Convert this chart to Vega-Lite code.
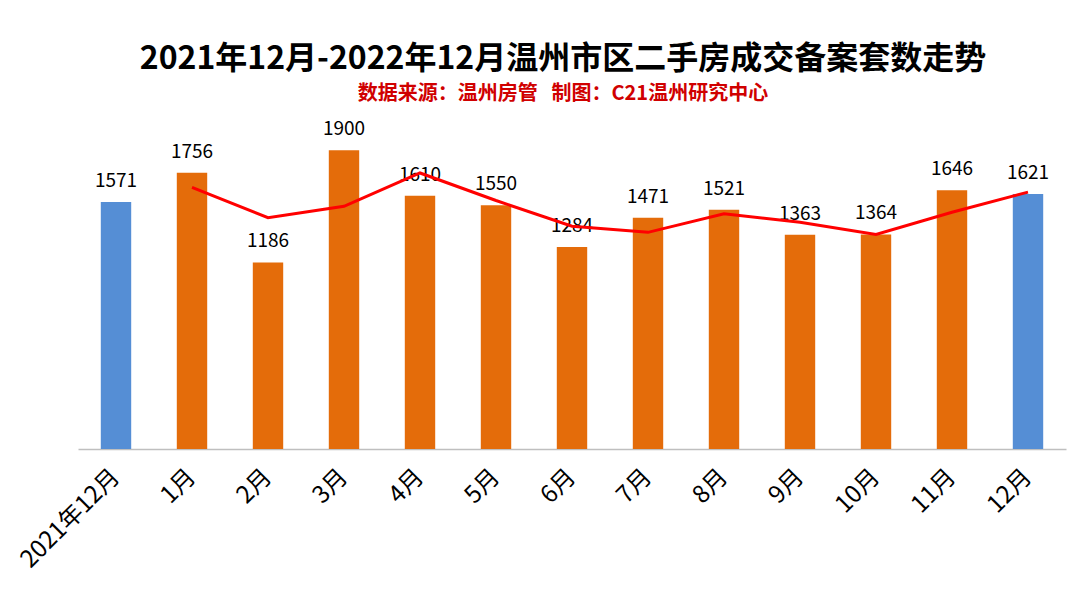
{
  "$schema": "https://vega.github.io/schema/vega-lite/v6.json",
  "autosize": {"type": "none"},
  "width": 988,
  "height": 346,
  "padding": {"left": 78, "top": 103, "right": 14, "bottom": 140},
  "background": "white",
  "title": {
    "text": "2021年12月-2022年12月温州市区二手房成交备案套数走势",
    "subtitle": "数据来源：温州房管\u00a0\u00a0\u00a0制图：C21温州研究中心",
    "font": "Noto Sans CJK SC",
    "fontSize": 32,
    "fontWeight": "bold",
    "color": "#000000",
    "subtitleFont": "Noto Sans CJK SC",
    "subtitleFontSize": 20,
    "subtitleFontWeight": "bold",
    "subtitleColor": "#D00000",
    "subtitlePadding": 8,
    "anchor": "middle",
    "offset": -2,
    "dx": -9
  },
  "data": {
    "values": [
      {"month": "2021年12月", "count": 1571, "type": "base", "avg": null},
      {"month": "1月", "count": 1756, "type": "month", "avg": 1663.5},
      {"month": "2月", "count": 1186, "type": "month", "avg": 1471},
      {"month": "3月", "count": 1900, "type": "month", "avg": 1543},
      {"month": "4月", "count": 1610, "type": "month", "avg": 1755},
      {"month": "5月", "count": 1550, "type": "month", "avg": 1580},
      {"month": "6月", "count": 1284, "type": "month", "avg": 1417},
      {"month": "7月", "count": 1471, "type": "month", "avg": 1377.5},
      {"month": "8月", "count": 1521, "type": "month", "avg": 1496},
      {"month": "9月", "count": 1363, "type": "month", "avg": 1442},
      {"month": "10月", "count": 1364, "type": "month", "avg": 1363.5},
      {"month": "11月", "count": 1646, "type": "month", "avg": 1505},
      {"month": "12月", "count": 1621, "type": "base", "avg": 1633.5}
    ]
  },
  "encoding": {
    "x": {
      "field": "month",
      "type": "nominal",
      "sort": null,
      "scale": {"paddingInner": 0.6, "paddingOuter": 0.3},
      "axis": {
        "title": null,
        "labelAngle": -45,
        "labelAlign": "right",
        "labelBaseline": "middle",
        "labelFont": "Noto Sans CJK SC",
        "labelFontSize": 24,
        "labelColor": "#000000",
        "labelPadding": 24,
        "ticks": false,
        "domainColor": "#BFBFBF",
        "domainWidth": 1.5,
        "grid": false
      }
    }
  },
  "layer": [
    {
      "mark": {"type": "bar"},
      "encoding": {
        "y": {"field": "count", "type": "quantitative", "scale": {"domain": [0, 2200]}, "axis": null},
        "color": {
          "field": "type",
          "type": "nominal",
          "scale": {"domain": ["base", "month"], "range": ["#558ED5", "#E46C0A"]},
          "legend": null
        }
      }
    },
    {
      "mark": {"type": "text", "baseline": "middle", "dy": -21, "font": "Noto Sans CJK SC", "fontSize": 19, "color": "#000000"},
      "encoding": {
        "y": {"field": "count", "type": "quantitative"},
        "text": {"field": "count", "type": "quantitative"}
      }
    },
    {
      "mark": {"type": "line", "color": "#FF0000", "strokeWidth": 3},
      "encoding": {
        "y": {"field": "avg", "type": "quantitative"}
      }
    }
  ],
  "config": {"view": {"stroke": null}}
}
